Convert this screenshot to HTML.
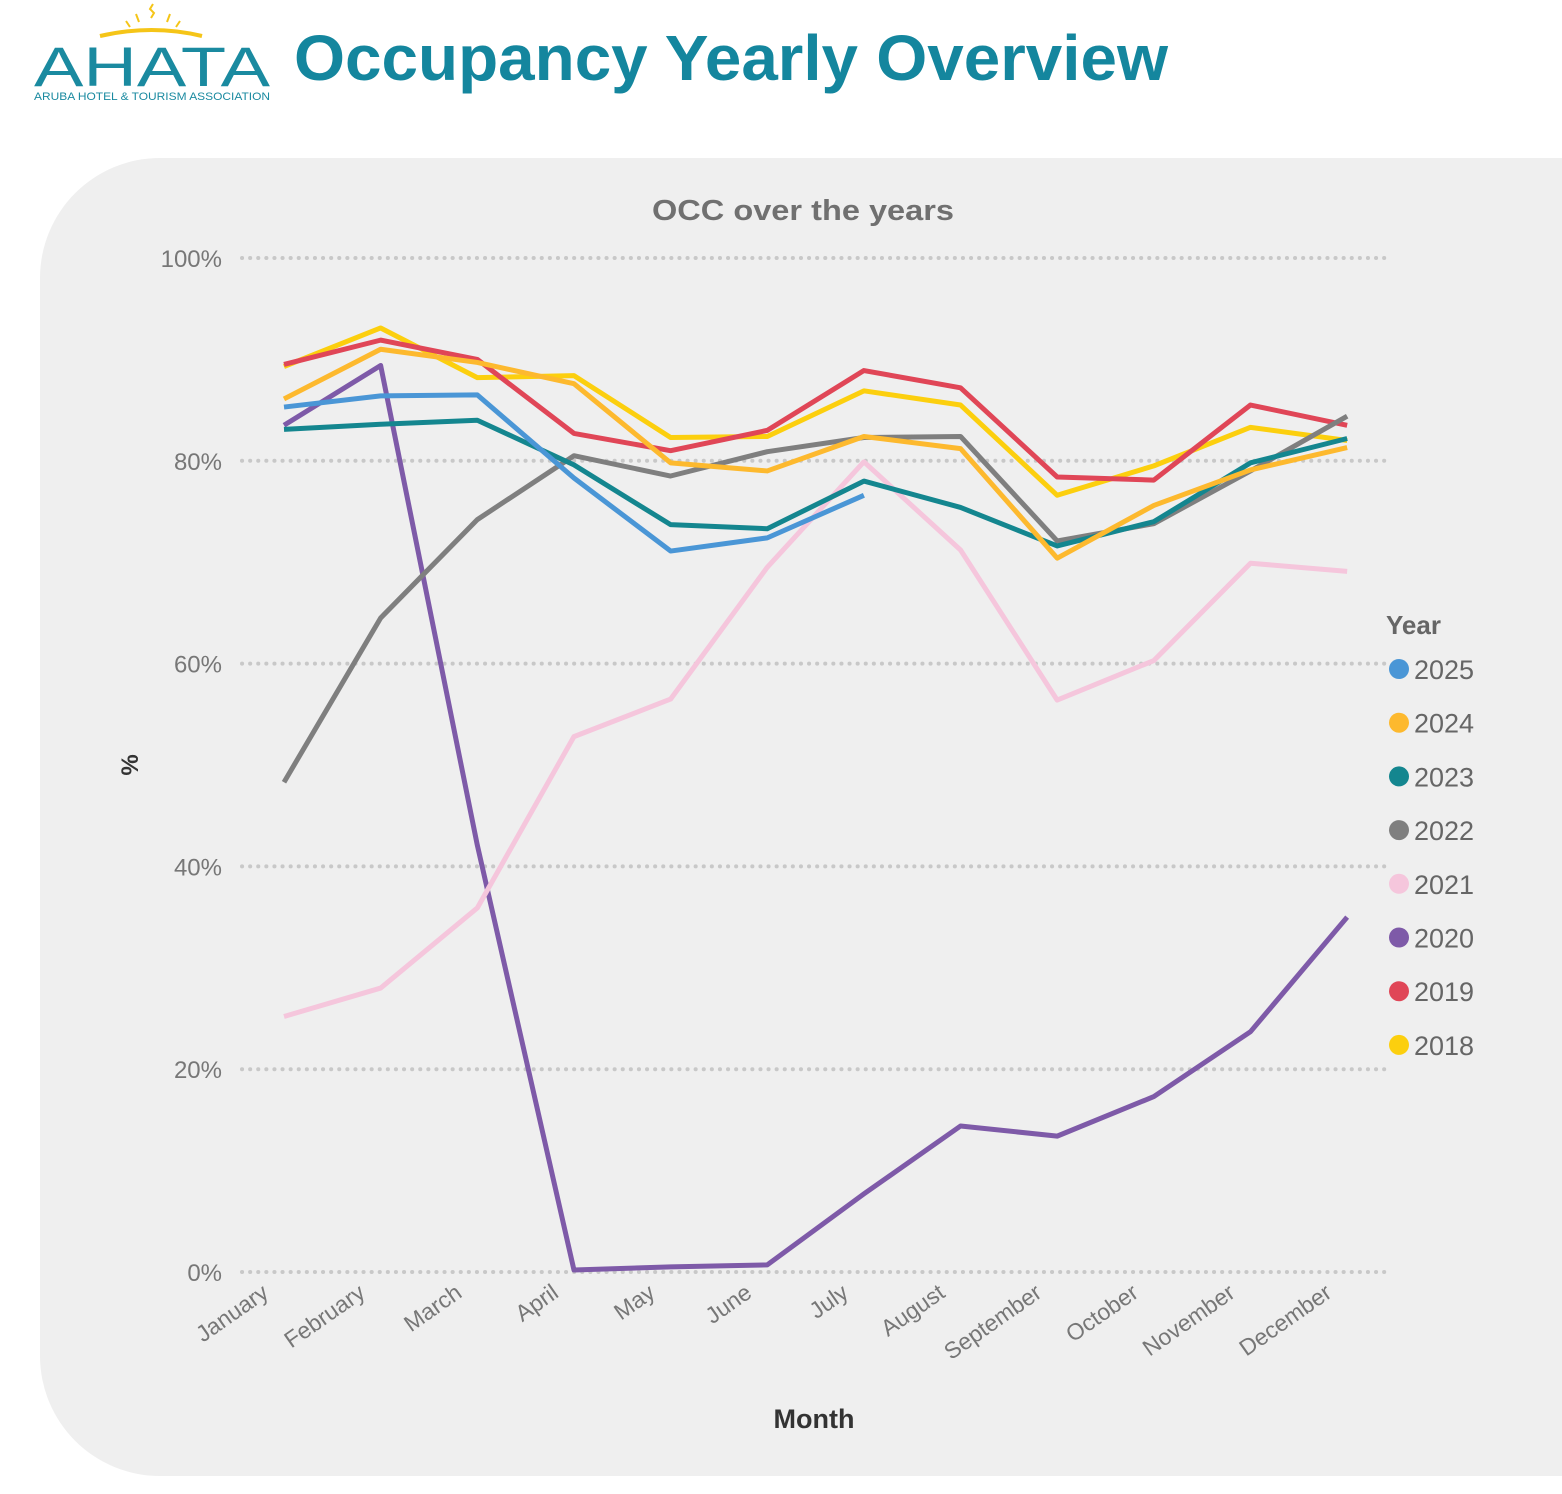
<!DOCTYPE html>
<html><head><meta charset="utf-8">
<style>
body{margin:0;width:1562px;height:1494px;background:#fff;overflow:hidden;font-family:"Liberation Sans",sans-serif;position:relative}
#panel{position:absolute;left:40px;top:158px;width:1600px;height:1318px;background:#efefef;border-radius:120px 0 0 120px}
svg{position:absolute;left:0;top:0}
</style></head><body>
<div id="panel"></div>
<svg width="1562" height="1494" id="chart">
<g>
<path d="M100 36 Q152 24 202 36" stroke="#f5c518" stroke-width="4" fill="none"/>
<path d="M153 4 l-3 5 l4 4 l-3 5" stroke="#f5c518" stroke-width="2" fill="none"/>
<path d="M136 14 l3 8 M170 14 l-3 8 M126 21 l4 6 M180 21 l-4 6" stroke="#f5c518" stroke-width="2"/>
<text x="152" y="86" text-anchor="middle" font-size="56" fill="#1a8aa0" textLength="236" lengthAdjust="spacingAndGlyphs">AHATA</text>
<text x="152" y="100" text-anchor="middle" font-size="11" fill="#1a8aa0" textLength="236" lengthAdjust="spacingAndGlyphs">ARUBA HOTEL &amp; TOURISM ASSOCIATION</text>
</g>
<text x="294" y="80" font-size="64" font-weight="bold" fill="#14869e" textLength="874" lengthAdjust="spacingAndGlyphs">Occupancy Yearly Overview</text>
<text x="803" y="220" text-anchor="middle" font-size="29" font-weight="bold" fill="#707070" textLength="302" lengthAdjust="spacingAndGlyphs">OCC over the years</text>
<text x="814" y="1428" text-anchor="middle" font-size="27" font-weight="bold" fill="#333">Month</text>
<text transform="translate(138,765) rotate(-90)" text-anchor="middle" font-size="24" font-weight="bold" fill="#333">%</text>
<g id="grid"></g><g id="lines"></g><g id="legend"></g>
</svg>
<script>
const months=["January","February","March","April","May","June","July","August","September","October","November","December"];
const yTicks=[0,20,40,60,80,100];
const years=["2025","2024","2023","2022","2021","2020","2019","2018"];
const colors=["#4a96d6","#fdb92e","#14868f","#7f7f7f","#f5c6dc","#7e5aa8","#e04657","#fccf0e"];
const s2025=[85.3,86.4,86.5,78.3,71.1,72.4,76.6];
const s2024=[86.1,91.0,89.7,87.6,79.8,79.0,82.4,81.2,70.4,75.6,79.1,81.3];
const s2023=[83.1,83.6,84.0,79.6,73.7,73.3,78.0,75.4,71.6,74.0,79.8,82.2];
const s2022=[48.3,64.5,74.2,80.5,78.5,80.9,82.3,82.4,72.1,73.8,79.0,84.4];
const s2021=[25.2,28.0,35.9,52.8,56.5,69.5,79.9,71.2,56.4,60.3,69.9,69.1];
const s2020=[83.5,89.4,42.1,0.2,0.5,0.7,7.7,14.4,13.4,17.3,23.7,35.0];
const s2019=[89.5,91.9,90.0,82.7,81.0,83.0,88.9,87.2,78.4,78.1,85.5,83.5];
const s2018=[89.3,93.1,88.2,88.4,82.3,82.4,86.9,85.5,76.6,79.5,83.3,82.0];
const series=[s2025,s2024,s2023,s2022,s2021,s2020,s2019,s2018];
const NS="http://www.w3.org/2000/svg";
const x=i=>284+i*96.65;
const y=v=>1272-v*10.14;
function mk(t,a,p){const e=document.createElementNS(NS,t);for(const k in a)e.setAttribute(k,a[k]);p.appendChild(e);return e;}
const grid=document.getElementById('grid');
yTicks.forEach(t=>{
  const l=mk('line',{x1:242,x2:1385,y1:y(t),y2:y(t),stroke:'#c8c8c8','stroke-width':4,'stroke-dasharray':'0.1 8','stroke-linecap':'round'},grid);
  
  
  const tx=mk('text',{x:222,y:y(t)+9,'text-anchor':'end','font-size':24,fill:'#777'},grid);
  tx.textContent=t+'%';
  
  
});
months.forEach((m,i)=>{
  const tx=mk('text',{transform:`translate(${x(i)-14},${1296}) rotate(-35)`,'text-anchor':'end','font-size':23,fill:'#777'},grid);
  tx.textContent=m;
  
  
});
const lines=document.getElementById('lines');
for(let k=series.length-1;k>=0;k--){
  const d=series[k].map((v,i)=>(i?'L':'M')+x(i)+' '+y(v)).join(' ');
  const p=mk('path',{d:d,fill:'none',stroke:colors[k],'stroke-width':5,'stroke-linejoin':'round'},lines);
  
  
}
const lg=document.getElementById('legend');
const tt=mk('text',{x:1386,y:634,'font-size':26,'font-weight':'bold',fill:'#666'},lg);
tt.textContent='Year';


years.forEach((yr,k)=>{
  const cy=669+k*53.7;
  const g=mk('g',{},lg);
  
  
  mk('circle',{cx:1399,cy:cy,r:10,fill:colors[k]},g);
  const t=mk('text',{x:1414,y:cy+10,'font-size':27,fill:'#666'},g);
  t.textContent=yr;
});
</script>
</body></html>
